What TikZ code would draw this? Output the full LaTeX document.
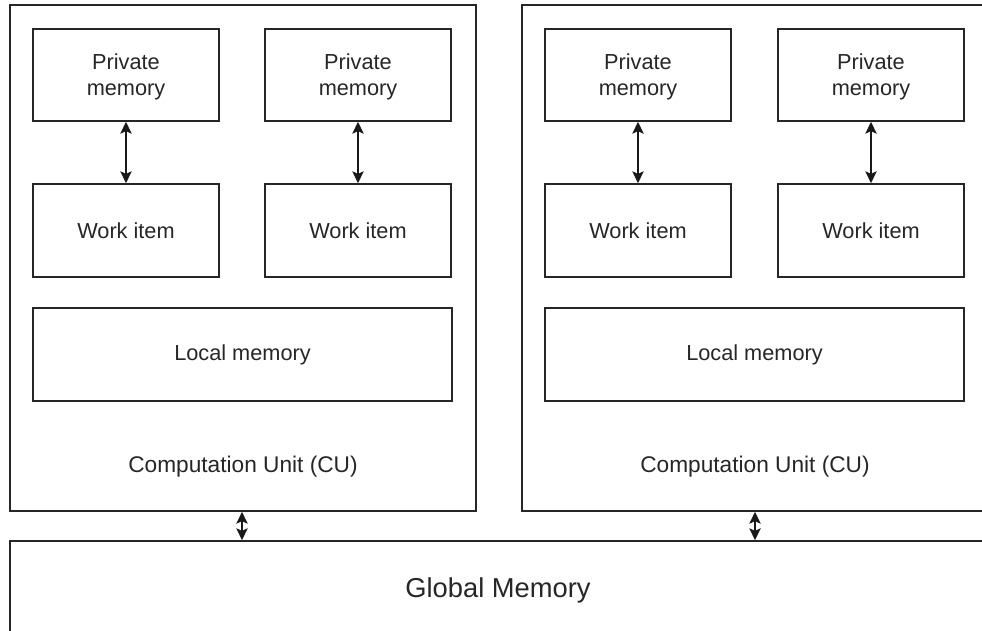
\documentclass[tikz,border=0pt]{standalone}
\usepackage{fontspec}
\setmainfont{Liberation Sans}
\usetikzlibrary{arrows.meta}
\tikzset{
  box/.style={draw=black!85, line width=1.1pt, rectangle, inner sep=0pt, align=center,
    font=\fontsize{16.3}{19.5}\selectfont, text=black!85},
  link/.style={line width=1.1pt, draw=black!90,
    {Stealth[length=9pt,width=8.5pt,inset=2pt]}-{Stealth[length=9pt,width=8.5pt,inset=2pt]}},
  tag/.style={font=\fontsize{17}{20}\selectfont, text=black!85, inner sep=0pt},
  pmem/.style={box, minimum width=186*0.75pt, minimum height=92*0.75pt},
  witem/.style={box, minimum width=186*0.75pt, minimum height=93*0.75pt},
  lmem/.style={box, minimum width=419*0.75pt, minimum height=93*0.75pt},
  unit/.style={box, minimum width=466*0.75pt, minimum height=506*0.75pt}
}
\begin{document}
\begin{tikzpicture}[x=0.75pt,y=-0.75pt]
\useasboundingbox (0,0) rectangle (982,631);
\clip (0,0) rectangle (982,631);
% computation units
\node[unit] (cu1) at (243,258) {};
\node[unit] (cu2) at (755,258) {};
% global memory
\node[box, minimum width=976*0.75pt, minimum height=130*0.75pt] (gm) at (498,606) {};
\node[tag, font=\fontsize{20.5}{24}\selectfont] (gmt) at (498,590) {Global Memory};
% left unit contents
\node[pmem] (p1) at (126,75) {};
\node[box, draw=none] (p1t) at (126,77) {Private\\memory};
\node[pmem] (p2) at (358,75) {};
\node[box, draw=none] (p2t) at (358,77) {Private\\memory};
\node[witem] (w1) at (126,230.5) {\raisebox{-1.5pt}{Work item}};
\node[witem] (w2) at (358,230.5) {\raisebox{-1.5pt}{Work item}};
\node[lmem] (l1) at (242.5,354.5) {\raisebox{-1.5pt}{Local memory}};
\node[tag] (c1) at (243,467) {Computation Unit (CU)};
% right unit contents
\node[pmem] (p3) at (638,75) {};
\node[box, draw=none] (p3t) at (638,77) {Private\\memory};
\node[pmem] (p4) at (871,75) {};
\node[box, draw=none] (p4t) at (871,77) {Private\\memory};
\node[witem] (w3) at (638,230.5) {\raisebox{-1.5pt}{Work item}};
\node[witem] (w4) at (871,230.5) {\raisebox{-1.5pt}{Work item}};
\node[lmem] (l2) at (754.5,354.5) {\raisebox{-1.5pt}{Local memory}};
\node[tag] (c2) at (755,467) {Computation Unit (CU)};
% links
\draw[link] (p1.south) -- (w1.north);
\draw[link] (p2.south) -- (w2.north);
\draw[link] (p3.south) -- (w3.north);
\draw[link] (p4.south) -- (w4.north);
\draw[link] (cu1.south -| 242,0) -- (gm.north -| 242,0);
\draw[link] (cu2.south -| 755,0) -- (gm.north -| 755,0);
\end{tikzpicture}
\end{document}
